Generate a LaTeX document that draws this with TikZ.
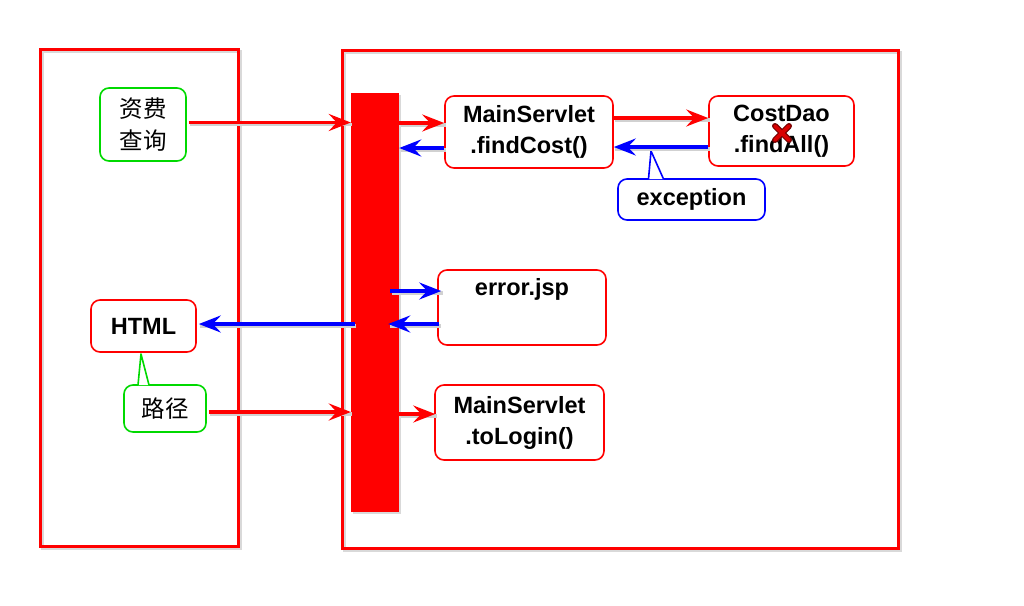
\documentclass[tikz,border=0pt]{standalone}
\usepackage{fontspec}
\setmainfont{Liberation Sans}
\newfontfamily\cjk{Noto Sans CJK SC}
\usetikzlibrary{arrows.meta,calc}
\begin{document}
\begin{tikzpicture}[x=1pt,y=-1pt,
  shadowed/.style={preaction={draw=black!15,line width=3pt,transform canvas={xshift=2.5pt,yshift=-2.5pt}}},
  frame/.style={draw=red,line width=3pt,shadowed,minimum width=#1,inner sep=0pt},
  box/.style={draw=#1,line width=1.6pt,rounded corners=9pt,fill=white,align=center,inner sep=0pt,
     font=\bfseries\fontsize{23.5}{31}\selectfont},
  cjkbox/.style={box=#1,font=\cjk\fontsize{23.5}{32}\selectfont},
  arr/.style={line width=3.4pt,-{Stealth[length=22pt,width=17pt,inset=8pt]},
     preaction={draw=black!18,line width=3.5pt,-,transform canvas={xshift=1.5pt,yshift=-2pt}}},
  ptr/.style={draw=#1,line width=1.6pt,fill=white,line join=round},
]
\useasboundingbox (0,0) rectangle (1024,605);
\fill[white] (0,0) rectangle (1024,605);

% frames
\node[frame=198pt,minimum height=497pt] (lf) at (139,297.5) {};
\node[frame=556pt,minimum height=498pt] (rf) at (620,299) {};
% bar
\node[fill=red,minimum width=48pt,minimum height=419pt,inner sep=0pt,
  preaction={fill=black!15,transform canvas={xshift=2pt,yshift=-2pt}}] (bar) at (375,302.5) {};

% boxes
\node[cjkbox=green!85!black,minimum width=86pt,minimum height=73pt] (zf) at (143,124.5) {资费\\查询};
\node[box=red,minimum width=168pt,minimum height=72pt] (mf) at (529,132) {MainServlet\\.findCost()};
\node[box=red,minimum width=145pt,minimum height=70pt] (cd) at (781.5,131) {CostDao\\.findAll()};
\node[box=blue,minimum width=147pt,minimum height=41pt] (exc) at (691.5,199.5) {exception};
\node[box=red,minimum width=168pt,minimum height=75pt] (err) at (522,307.5) {error.jsp\\\strut};
\node[box=red,minimum width=105pt,minimum height=52pt] (html) at (143.5,326) {HTML};
\node[cjkbox=green!85!black,minimum width=82pt,minimum height=47pt] (lj) at (165,408.5) {路径};
\node[box=red,minimum width=169pt,minimum height=75pt] (ml) at (519.5,422.5) {MainServlet\\.toLogin()};

% callout pointers
\coordinate (ptip1) at (651,151);
\draw[ptr=blue] ($(exc.north)+(-43,0.8)$) -- (ptip1) -- ($(exc.north)+(-28,0.8)$);
\coordinate (ptip2) at (141,354);
\draw[ptr=green!85!black] ($(lj.north)+(-27,0.8)$) -- (ptip2) -- ($(lj.north)+(-16,0.8)$);

% red cross on CostDao
\coordinate (xm) at (782,133);
\draw[line width=6pt,red!45!black,line cap=round] ($(xm)+(-7,-7)$) -- ($(xm)+(7,7)$) ($(xm)+(-7,7)$) -- ($(xm)+(7,-7)$);
\draw[line width=3.8pt,red!85!black,line cap=round] ($(xm)+(-7,-7)$) -- ($(xm)+(7,7)$) ($(xm)+(-7,7)$) -- ($(xm)+(7,-7)$);

% arrows
\coordinate (zf1) at ($(zf.east)+(2,-2)$);
\draw[arr,red] (zf1) -- (zf1 -| bar.west);
\coordinate (mf1) at ($(mf.west)+(0,-9)$);
\coordinate (mf2) at ($(mf.west)+(0,16)$);
\draw[arr,red] (mf1 -| bar.east) -- (mf1);
\draw[arr,blue] (mf2) -- (mf2 -| bar.east);
\coordinate (cd1) at ($(cd.west)+(0,-13)$);
\coordinate (cd2) at ($(cd.west)+(0,16)$);
\draw[arr,red] (cd1 -| mf.east) -- (cd1);
\draw[arr,blue] (cd2) -- (cd2 -| mf.east);
\coordinate (er1) at ($(err.west)+(4,-16.5)$);
\coordinate (er2) at ($(err.west)+(2,16.5)$);
\draw[arr,blue] ($(er1 -| bar.east)+(-9,0)$) -- (er1);
\draw[arr,blue] (er2) -- ($(er2 -| bar.east)+(-11,0)$);
\coordinate (ht1) at ($(html.east)+(2,-2)$);
\draw[arr,blue] ($(ht1 -| bar.west)+(4,0)$) -- (ht1);
\coordinate (lj1) at ($(lj.east)+(2,3.5)$);
\draw[arr,red] (lj1) -- (lj1 -| bar.west);
\coordinate (ml1) at ($(ml.west)+(1,-8.5)$);
\draw[arr,red] (ml1 -| bar.east) -- (ml1);
\end{tikzpicture}
\end{document}
